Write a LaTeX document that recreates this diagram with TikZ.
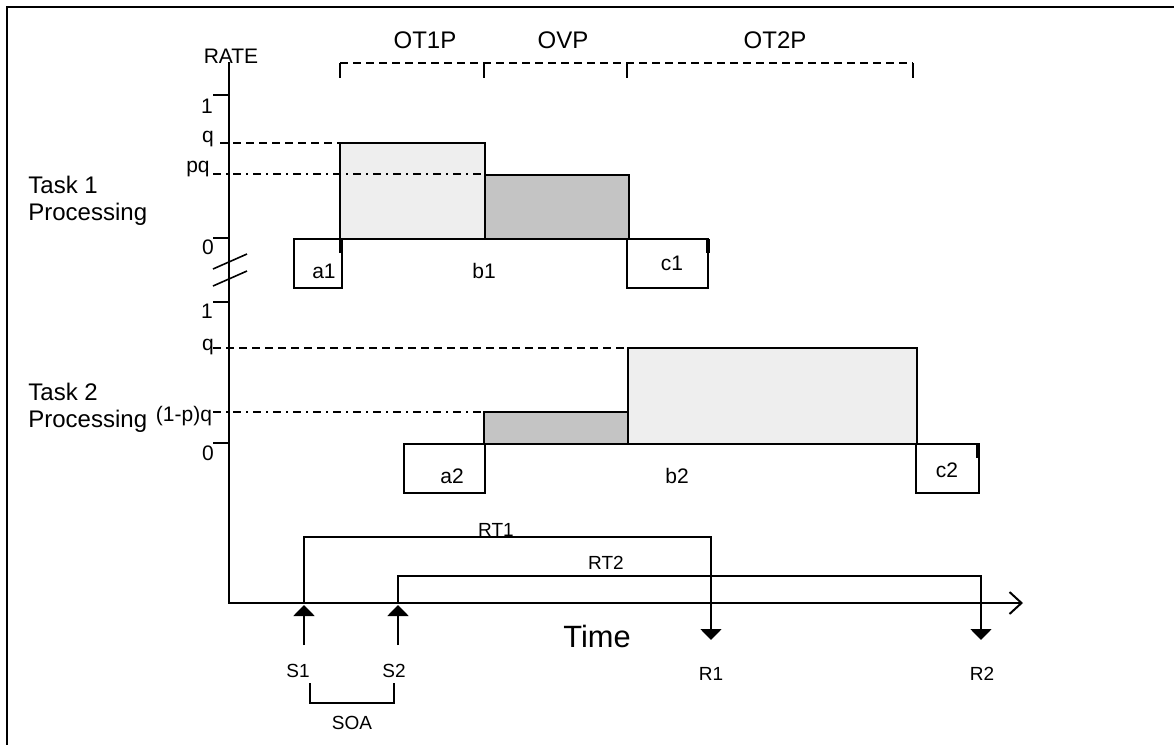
\documentclass[tikz,border=0pt]{standalone}
\usepackage{fontspec}
\setmainfont{Liberation Sans}
\usetikzlibrary{arrows.meta}
\definecolor{lightfill}{HTML}{EEEEEE}
\definecolor{darkfill}{HTML}{C4C4C4}
\tikzset{
  lbl/.style={font=\fontsize{10.5}{12.6}\selectfont, inner sep=0pt, anchor=base},
  smalllbl/.style={lbl, font=\fontsize{9.5}{11.4}\selectfont},
  phaselbl/.style={lbl, font=\fontsize{12}{14.4}\selectfont},
  tasklbl/.style={font=\fontsize{12}{13.5}\selectfont, align=left, inner sep=0pt, anchor=base west},
  timelbl/.style={font=\fontsize{15.4}{18}\selectfont, inner sep=0pt, anchor=base},
  ax/.style={line width=1pt, draw=black},
  box/.style={line width=1pt, draw=black},
  lvl/.style={line width=1.1pt, dash pattern=on 4pt off 2.5pt},
  lvldot/.style={line width=0.8pt, dash pattern=on 4pt off 2.5pt on 1pt off 2.5pt},
  tick/.style={line width=0.8pt},
  stim/.style={-{Triangle[width=10.5pt,length=5.5pt]}, line width=1pt},
  resp/.style={-{Triangle[width=10.5pt,length=5.5pt]}, line width=0.9pt},
}
\begin{document}
\begin{tikzpicture}[x=0.5pt, y=-0.5pt]
  \useasboundingbox (0,0) rectangle (1174,745);
  % frame
  \draw[line width=1.2pt] (7,745) -- (7,7) -- (1174,7);

  % axes
  \coordinate (ytop) at (229,62);
  \coordinate (origin) at (229,603);
  \coordinate (xend) at (1023,603);
  \draw[ax, -{Straight Barb[length=6pt,width=11pt]}] (ytop) -- (origin) -- (xend);
  \node[lbl] (rate) at (231,63) {RATE};
  \foreach \y in {95,238,302,443} \draw[tick] (213,\y) -- (229,\y);
  \draw[tick] (213,269) -- (247,254);
  \draw[tick] (213,286) -- (247,271);

  % phase brackets
  \draw[lvl] (340,63) -- (913,63);
  \foreach \x in {340,484,627,913} \draw[tick] (\x,63) -- (\x,78);
  \node[phaselbl] (ot1p) at (425,48) {OT1P};
  \node[phaselbl] (ovp) at (563,48) {OVP};
  \node[phaselbl] (ot2p) at (775,48) {OT2P};

  % task 1
  \node[tasklbl] (task1) at (28,220) {Task 1\\Processing};
  \node[lbl] (t1one) at (207,113) {1};
  \node[lbl] (t1q) at (208,142) {q};
  \node[lbl] (t1pq) at (198,172) {pq};
  \node[lbl] (t1zero) at (208,254) {0};
  \draw[box, fill=lightfill] (340,143) rectangle (485,239);
  \draw[box, fill=darkfill] (485,175) rectangle (629,239);
  \draw[lvl] (220,143) -- (340,143);
  \draw[lvldot] (213,174) -- (485,174);
  \draw[box] (294,239) rectangle (342,288);
  \draw[box] (627,239) rectangle (708,288);
  \draw[line width=1.6pt] (341,239) -- (341,253);
  \draw[line width=1.6pt] (708,239) -- (708,253);
  \node[lbl] (a1) at (324,278) {a1};
  \node[lbl] (b1) at (484,278) {b1};
  \node[lbl] (c1) at (672,270) {c1};

  % task 2
  \node[tasklbl] (task2) at (28,427) {Task 2\\Processing};
  \node[lbl] (t2one) at (207,318) {1};
  \node[lbl] (t2q) at (208,350) {q};
  \node[lbl] (t2pq) at (184,421) {(1-p)q};
  \node[lbl] (t2zero) at (208,460) {0};
  \draw[box, fill=darkfill] (484,412) rectangle (628,444);
  \draw[box, fill=lightfill] (628,348) rectangle (917,444);
  \draw[lvl] (213,348) -- (628,348);
  \draw[lvldot] (213,412) -- (484,412);
  \draw[box] (404,444) rectangle (485,493);
  \draw[box] (916,444) rectangle (979,493);
  \draw[line width=1.6pt] (978,444) -- (978,458);
  \node[lbl] (a2) at (452,483) {a2};
  \node[lbl] (b2) at (677,483) {b2};
  \node[lbl] (c2) at (947,477) {c2};

  % stimuli and responses
  \coordinate (s1) at (304,645);
  \coordinate (s1tip) at (304,605);
  \coordinate (s2) at (398,645);
  \coordinate (s2tip) at (398,605);
  \coordinate (rt1) at (711,537);
  \coordinate (rt2) at (981,576);
  \coordinate (r1) at (711,640);
  \coordinate (r2) at (981,640);
  \draw[stim] (s1) -- (s1tip);
  \draw[stim] (s2) -- (s2tip);
  \draw[resp] (origin -| s1tip) |- (rt1) -- (r1);
  \draw[resp] (origin -| s2tip) |- (rt2) -- (r2);
  \node[smalllbl] (rt1lbl) at (496,536) {RT1};
  \node[smalllbl] (rt2lbl) at (606,569) {RT2};
  \node[timelbl] (time) at (597,647) {Time};
  \node[smalllbl] (s1lbl) at (298,677) {S1};
  \node[smalllbl] (s2lbl) at (394,677) {S2};
  \node[smalllbl] (r1lbl) at (711,680) {R1};
  \node[smalllbl] (r2lbl) at (982,680) {R2};
  \draw[line width=1pt] (310,683) |- (394,703) -- (394,683);
  \node[smalllbl] (soa) at (352,729) {SOA};
\end{tikzpicture}
\end{document}
